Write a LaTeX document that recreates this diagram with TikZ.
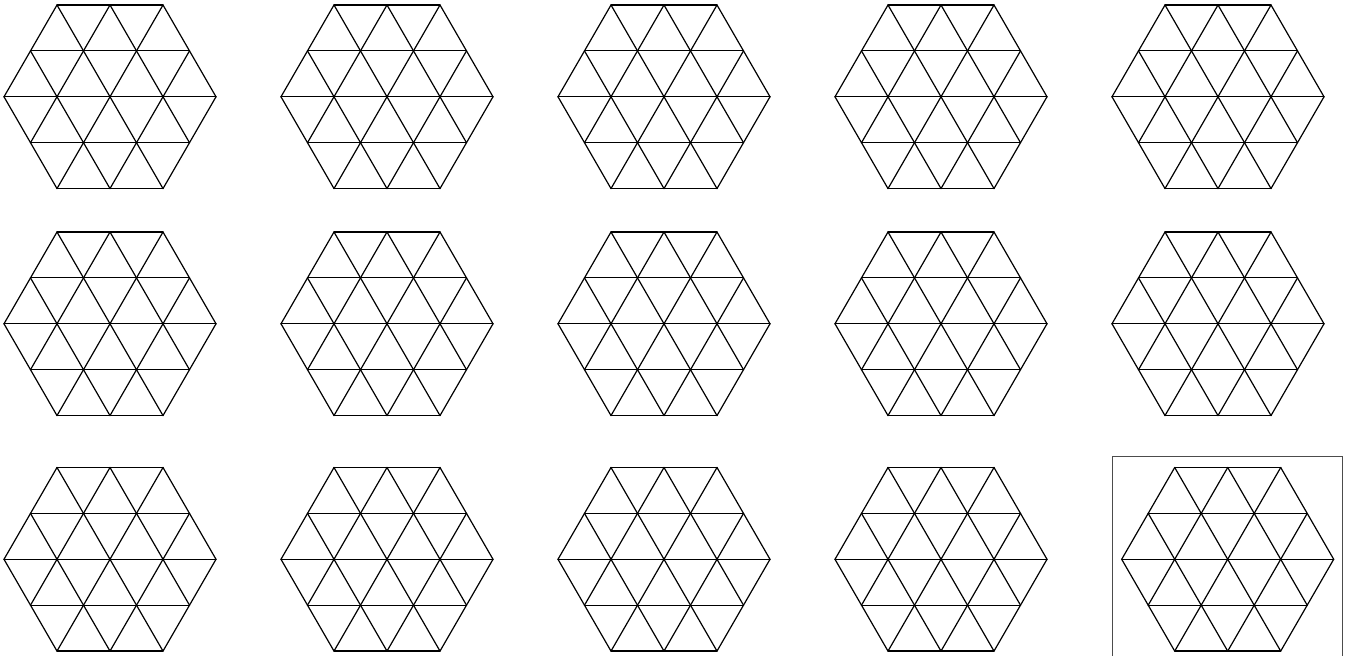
\documentclass[tikz,border=0pt]{standalone}
\usetikzlibrary{calc}

\tikzset{gridline/.style={line width=0.6pt,line cap=round},
  framebox/.style={draw=black!70,line width=0.6pt}}
% hexagon of side 2, cut into triangles; #1,#2 = centre
\newcommand{\trihex}[2]{%
  \foreach \r in {0,60,120}{%
    \begin{scope}[shift={(#1,#2)},rotate=\r]
    \foreach \k in {-2,...,2}{%
      \pgfmathsetmacro{\hl}{(4-abs(\k))*26.5}
      \draw[gridline] (-\hl,\k*45.9) -- (\hl,\k*45.9);}
    \end{scope}}}

\begin{document}
\begin{tikzpicture}[x=0.5pt,y=-0.5pt]
\useasboundingbox (0,0) rectangle (1346,656);
\foreach \cy in {96.8,323.8}{
  \foreach \cx in {110,387,664,941,1218}{\trihex{\cx}{\cy}}}
\foreach \cx in {110,387,664,941}{\trihex{\cx}{559.3}}
\trihex{1227.7}{559.3}
\draw[framebox] (1112.5,680) |- (1342.5,456.5) -- (1342.5,680);
\end{tikzpicture}
\end{document}
